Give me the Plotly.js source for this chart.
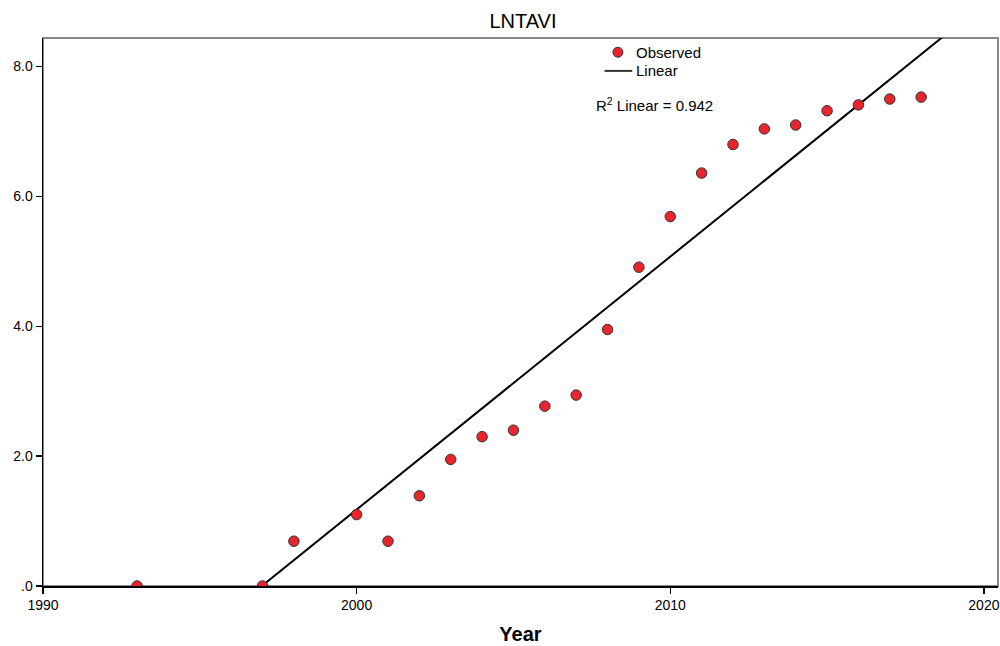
<!DOCTYPE html>
<html>
<head>
<meta charset="utf-8">
<script src="https://cdn.plot.ly/plotly-3.0.1.min.js"></script>
<style>html,body{margin:0;padding:0;background:#fff;}#chart{width:1000px;height:646px;}</style>
</head>
<body>
<div id="chart"></div>
<script>
const years = [1993, 1997, 1998, 2000, 2001, 2002, 2003, 2004, 2005, 2006, 2007, 2008, 2009, 2010, 2011, 2012, 2013, 2014, 2015, 2016, 2017, 2018];
const lntavi = [0, 0, 0.69, 1.10, 0.69, 1.39, 1.95, 2.30, 2.40, 2.77, 2.94, 3.95, 4.91, 5.69, 6.36, 6.80, 7.04, 7.10, 7.32, 7.41, 7.50, 7.53];
const xTickVals = [1990, 2000, 2010, 2020];
const xTickText = ["1990", "2000", "2010", "2020"];
const yTickVals = [0, 2, 4, 6, 8];
const yTickText = [".0", "2.0", "4.0", "6.0", "8.0"];
const rSquaredLabel = "R<sup>2</sup> Linear = 0.942";

// least-squares fit
const n = years.length;
const mx = years.reduce((a, b) => a + b, 0) / n;
const my = lntavi.reduce((a, b) => a + b, 0) / n;
let sxy = 0, sxx = 0;
for (let i = 0; i < n; i++) { sxy += (years[i] - mx) * (lntavi[i] - my); sxx += (years[i] - mx) ** 2; }
const slope = sxy / sxx;
const intercept = my - slope * mx;
const xRange = [1990, 2020.45];
const fitX = xRange;
const fitY = fitX.map(x => intercept + slope * x);

const font = "Liberation Sans, Arial, sans-serif";
const plotW = 955, plotH = 548;
const mkR = 5;
const mkX = 0.602, mkY = 0.974;

const traces = [
  {
    x: fitX, y: fitY, mode: "lines", type: "scatter", name: "Linear",
    line: {color: "#000000", width: 2}, hoverinfo: "skip"
  },
  {
    x: years, y: lntavi, mode: "markers", type: "scatter", name: "Observed",
    marker: {color: "#e8242c", size: 10.5, line: {color: "#333333", width: 1}},
    cliponaxis: true
  }
];

const layout = {
  width: 1000, height: 646,
  paper_bgcolor: "#ffffff", plot_bgcolor: "#ffffff",
  margin: {l: 43, r: 2, t: 38, b: 60},
  showlegend: false,
  title: {text: "LNTAVI", font: {family: font, size: 20, color: "#000"}, x: 0.523, xanchor: "center", y: 0.968, yanchor: "middle"},
  xaxis: {
    range: xRange, tickvals: xTickVals, ticktext: xTickText,
    showgrid: false, zeroline: false, showline: true, linecolor: "#000", linewidth: 1.5,
    ticks: "outside", ticklen: 6, tickcolor: "#000", tickwidth: 1.5,
    tickfont: {family: font, size: 14, color: "#000"},
    title: {text: "<b>Year</b>", font: {family: font, size: 20, color: "#000"}, standoff: 14}
  },
  yaxis: {
    range: [0, 8.44], tickvals: yTickVals, ticktext: yTickText,
    showgrid: false, zeroline: false, showline: true, linecolor: "#000", linewidth: 1.5,
    ticks: "outside", ticklen: 6, tickcolor: "#000", tickwidth: 1.5,
    tickfont: {family: font, size: 14, color: "#000"}
  },
  shapes: [
    {type: "rect", xref: "paper", yref: "paper", x0: 0, x1: 1, y0: 0, y1: 1,
     line: {color: "#888888", width: 2}, layer: "below"},
    {type: "circle", xref: "paper", yref: "paper",
     x0: mkX - mkR / plotW, x1: mkX + mkR / plotW, y0: mkY - mkR / plotH, y1: mkY + mkR / plotH,
     fillcolor: "#e8242c", line: {color: "#333333", width: 1}},
    {type: "line", xref: "paper", yref: "paper", x0: 0.588, x1: 0.617, y0: 0.940, y1: 0.940,
     line: {color: "#333333", width: 2}}
  ],
  annotations: [
    {xref: "paper", yref: "paper", x: 0.619, y: 0.974, xanchor: "left", yanchor: "middle",
     text: "Observed", showarrow: false, font: {family: font, size: 15, color: "#000"}},
    {xref: "paper", yref: "paper", x: 0.619, y: 0.940, xanchor: "left", yanchor: "middle",
     text: "Linear", showarrow: false, font: {family: font, size: 15, color: "#000"}},
    {xref: "paper", yref: "paper", x: 0.640, y: 0.878, xanchor: "center", yanchor: "middle",
     text: rSquaredLabel, showarrow: false, font: {family: font, size: 15, color: "#000"}}
  ]
};

Plotly.newPlot("chart", traces, layout, {displayModeBar: false, staticPlot: true});
</script>
</body>
</html>
